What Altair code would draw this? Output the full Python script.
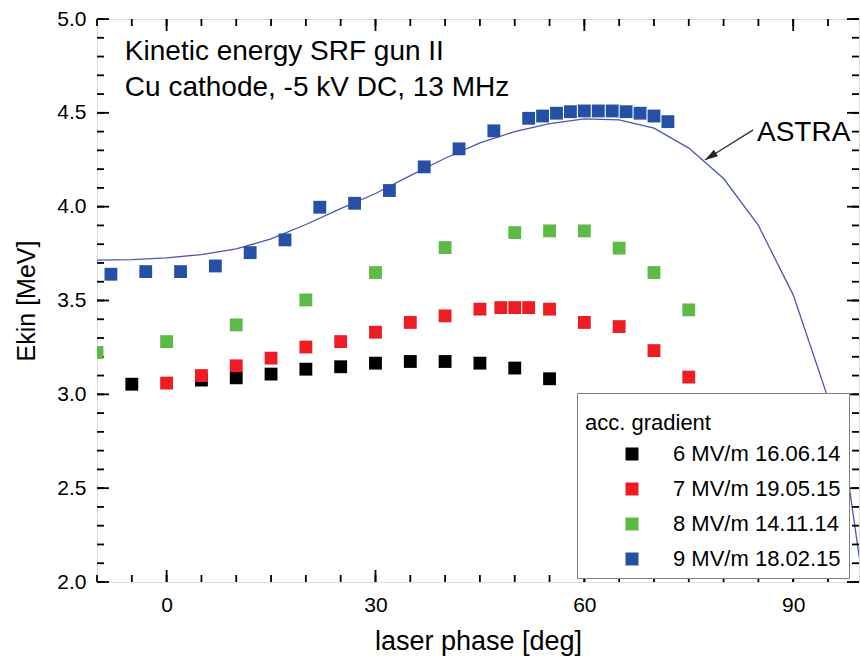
import altair as alt
import pandas as pd

FONT = "Liberation Sans"
W, H = 762, 563

# Measured kinetic energy [MeV] versus laser phase [deg], one pair of lists per gradient
phase_6 = [-5, 5, 10, 15, 20, 25, 30, 35, 40, 45, 50, 55]
ekin_6 = [3.054, 3.076, 3.088, 3.108, 3.134, 3.147, 3.166, 3.175, 3.175, 3.166, 3.140, 3.083]

phase_7 = [0, 5, 10, 15, 20, 25, 30, 35, 40, 45, 48, 50, 52, 55, 60, 65, 70, 75]
ekin_7 = [3.060, 3.100, 3.152, 3.193, 3.252, 3.281, 3.331, 3.383, 3.418, 3.454,
          3.462, 3.462, 3.462, 3.454, 3.383, 3.361, 3.233, 3.092]

phase_8 = [-10, 0, 10, 20, 30, 40, 50, 55, 60, 65, 70, 75]
ekin_8 = [3.223, 3.281, 3.370, 3.503, 3.649, 3.782, 3.862, 3.871, 3.871, 3.779, 3.649, 3.450]

phase_9 = [-8, -3, 2, 7, 12, 17, 22, 27, 32, 37, 42, 47, 52, 54, 56, 58, 60, 62, 64, 66, 68, 70, 72]
ekin_9 = [3.640, 3.654, 3.654, 3.684, 3.755, 3.823, 3.997, 4.018, 4.086, 4.212, 4.308, 4.404,
          4.471, 4.483, 4.498, 4.506, 4.510, 4.510, 4.510, 4.506, 4.498, 4.483, 4.453]

series_labels = ["6 MV/m 16.06.14", "7 MV/m 19.05.15", "8 MV/m 14.11.14", "9 MV/m 18.02.15"]
series_colors = ["#000000", "#ee1d23", "#5dba46", "#2550a5"]

# ASTRA simulation
astra_phase = [-10, -5, 0, 5, 10, 15, 20, 25, 30, 35, 40, 45, 50, 55, 60, 65, 70, 75, 80, 85, 90, 95, 97.5, 100]
astra_ekin = [3.715, 3.718, 3.727, 3.745, 3.775, 3.828, 3.905, 3.990, 4.070, 4.165, 4.258, 4.340,
              4.400, 4.443, 4.468, 4.462, 4.418, 4.312, 4.150, 3.900, 3.530, 2.980, 2.650, 2.000]

# Annotations
note_text = ["Kinetic energy SRF gun II", "Cu cathode, -5 kV DC, 13 MHz", "ASTRA"]
note_phase = [-6.0, -6.0, 84.8]
note_ekin = [4.824, 4.632, 4.393]
arrow_from = (84.26, 4.409)
arrow_to = (77.32, 4.249)

# Axis ticks
x_major = [0, 30, 60, 90]
x_minor = list(range(-10, 100, 5))
y_major = [2.0, 2.5, 3.0, 3.5, 4.0, 4.5, 5.0]
y_minor = [round(2.0 + 0.1 * i, 1) for i in range(31)]

rows = []
for label, ph, ek in zip(series_labels, [phase_6, phase_7, phase_8, phase_9],
                         [ekin_6, ekin_7, ekin_8, ekin_9]):
    rows += [{"series": label, "phase": p, "ekin": e} for p, e in zip(ph, ek)]
points_df = pd.DataFrame(rows)
astra_df = pd.DataFrame({"phase": astra_phase, "ekin": astra_ekin})
notes_df = pd.DataFrame({"text": note_text, "phase": note_phase, "ekin": note_ekin})
arrow_df = pd.DataFrame({"phase": [arrow_from[0]], "ekin": [arrow_from[1]],
                         "phase2": [arrow_to[0]], "ekin2": [arrow_to[1]]})
head_df = pd.DataFrame({"phase": [arrow_to[0]], "ekin": [arrow_to[1]]})

xs = alt.Scale(domain=[-10, 99.45], nice=False, zero=False)
ys = alt.Scale(domain=[2, 5], nice=False, zero=False)

x_axis = alt.Axis(values=x_major, format="d", ticks=False, domain=False, grid=False,
                  labelFont=FONT, labelFontSize=21, labelColor="black", labelPadding=12,
                  title="laser phase [deg]", titleFont=FONT, titleFontSize=27,
                  titleFontWeight="normal", titleColor="black", titlePadding=13)
y_axis = alt.Axis(values=y_major, format=".1f", ticks=False, domain=False, grid=False,
                  labelFont=FONT, labelFontSize=21, labelColor="black", labelPadding=11,
                  labelOverlap=False, title="Ekin [MeV]", titleFont=FONT, titleFontSize=25,
                  titleFontWeight="normal", titleColor="black", titlePadding=17)

X = lambda field: alt.X(field, scale=xs, axis=x_axis)
Y = lambda field: alt.Y(field, scale=ys, axis=y_axis)


def x_ticks(values, length, top):
    # inward tick marks along the bottom or top frame
    y0 = 0 if top else H
    y1 = length if top else H - length
    return alt.Chart(pd.DataFrame({"phase": values})).mark_rule(
        color="black", strokeWidth=1.8).encode(
        x=X("phase:Q"), y=alt.value(y0), y2=alt.value(y1))


def y_ticks(values, length, right):
    # inward tick marks along the left or right frame
    x0 = W if right else 0
    x1 = W - length if right else length
    return alt.Chart(pd.DataFrame({"ekin": values})).mark_rule(
        color="black", strokeWidth=1.8).encode(
        y=Y("ekin:Q"), x=alt.value(x0), x2=alt.value(x1))


ticks = [x_ticks(x_minor, 7, False), x_ticks(x_major, 12, False),
         x_ticks(x_minor, 7, True), x_ticks(x_major, 12, True),
         y_ticks(y_minor, 7, False), y_ticks(y_major, 12, False),
         y_ticks(y_minor, 7, True), y_ticks(y_major, 12, True)]

astra = alt.Chart(astra_df).mark_line(color="#4b55b5", strokeWidth=1.3, clip=True).encode(
    x=X("phase:Q"), y=Y("ekin:Q"),
)

points = alt.Chart(points_df).mark_point(filled=True, shape="square", size=165, opacity=1,
                                         clip=True).encode(
    x=X("phase:Q"),
    y=Y("ekin:Q"),
    color=alt.Color("series:N", scale=alt.Scale(domain=series_labels, range=series_colors),
                    legend=alt.Legend(title="acc. gradient", orient="none", legendX=480,
                                      legendY=374, symbolType="square", symbolSize=169,
                                      symbolStrokeWidth=0, symbolOpacity=1,
                                      labelFont=FONT, labelFontSize=22, labelColor="black",
                                      labelLimit=400, titleFont=FONT, titleFontSize=22,
                                      titleFontWeight="normal", titleColor="black",
                                      titleBaseline="line-top", titleLineHeight=46,
                                      padding=8, strokeColor="#808080", fillColor="white",
                                      symbolOffset=36, labelOffset=30, rowPadding=13,
                                      titlePadding=20)),
    order=alt.Order("series:N"),
)

notes = alt.Chart(notes_df).mark_text(align="left", baseline="middle", font=FONT,
                                      fontSize=28, color="black").encode(
    x=X("phase:Q"), y=Y("ekin:Q"), text="text:N",
)

arrow = alt.Chart(arrow_df).mark_rule(color="#333333", strokeWidth=1.3).encode(
    x=X("phase:Q"), y=Y("ekin:Q"), x2="phase2:Q", y2="ekin2:Q",
)

head = alt.Chart(head_df).mark_point(shape="M0,0 L-0.6,2 L0.6,2 Z", filled=True, size=169,
                                     angle=238, color="#222222", opacity=1).encode(
    x=X("phase:Q"), y=Y("ekin:Q"),
)

chart = alt.layer(astra, *ticks, points, notes, arrow, head).properties(
    width=W,
    height=H,
    autosize=alt.AutoSizeParams(type="none"),
    padding={"left": 97, "top": 19, "right": 1, "bottom": 81},
).configure_view(stroke="black", strokeWidth=2).configure(background="white")

chart.save("out.html", embed_options={"renderer": "svg", "actions": False})
